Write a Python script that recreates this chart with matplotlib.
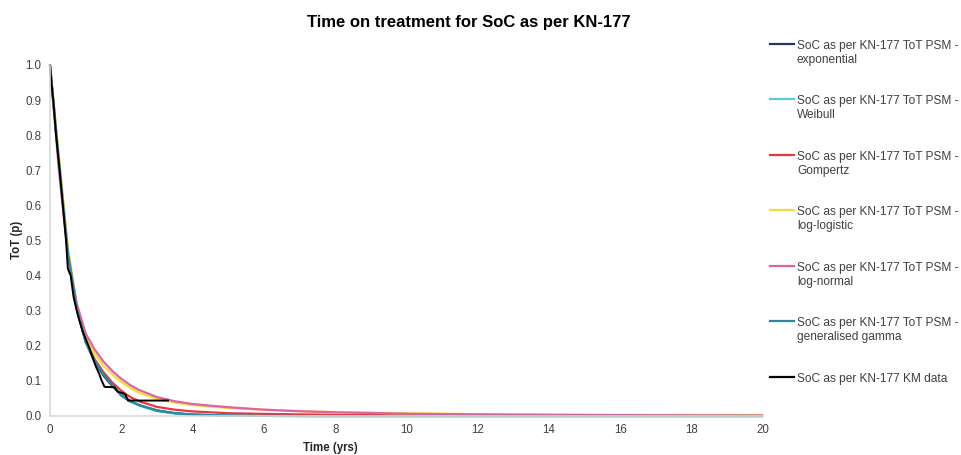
import matplotlib
matplotlib.use("Agg")
import matplotlib.pyplot as plt
from matplotlib.lines import Line2D

plt.rcParams['font.family'] = ['Liberation Sans', 'DejaVu Sans']

# ---- data ----
t_fit = [0, 0.25, 0.5, 0.75, 1.0, 1.25, 1.5, 1.75, 2.0, 2.25, 2.5, 3.0, 3.5, 4.0,
         5.0, 6.0, 7.0, 8.0, 10.0, 12.0, 14.0, 16.0, 18.0, 20.0]

exponential = [1.0, 0.72, 0.47, 0.31, 0.21, 0.155, 0.115, 0.085, 0.06, 0.043, 0.031,
               0.016, 0.008, 0.004, 0.001, 0.0003, 0, 0, 0, 0, 0, 0, 0, 0]
weibull = [1.0, 0.73, 0.47, 0.305, 0.21, 0.16, 0.12, 0.09, 0.058, 0.041, 0.03,
           0.014, 0.007, 0.004, 0.001, 0.0003, 0, 0, 0, 0, 0, 0, 0, 0]
gompertz = [1.0, 0.72, 0.465, 0.31, 0.215, 0.162, 0.125, 0.095, 0.072, 0.054, 0.042,
            0.026, 0.018, 0.013, 0.008, 0.006, 0.0045, 0.0035, 0.0025, 0.002,
            0.0017, 0.0015, 0.0014, 0.0013]
log_logistic = [1.0, 0.74, 0.48, 0.32, 0.225, 0.178, 0.143, 0.118, 0.097, 0.08, 0.066,
                0.049, 0.038, 0.031, 0.023, 0.018, 0.014, 0.011, 0.0075, 0.0055,
                0.0042, 0.0034, 0.0028, 0.0024]
log_normal = [1.0, 0.70, 0.46, 0.32, 0.235, 0.19, 0.155, 0.128, 0.106, 0.088, 0.074,
              0.054, 0.042, 0.034, 0.025, 0.018, 0.0135, 0.0105, 0.0065, 0.0045,
              0.0032, 0.0024, 0.0018, 0.0014]
gen_gamma = [1.0, 0.725, 0.468, 0.305, 0.212, 0.158, 0.118, 0.088, 0.058, 0.042, 0.031,
             0.015, 0.008, 0.004, 0.0012, 0.0004, 0.0001, 0, 0, 0, 0, 0, 0, 0]

t_km = [0, 0.04, 0.1, 0.17, 0.27, 0.36, 0.45, 0.5, 0.58, 0.66, 0.75, 0.83, 0.92, 1.0,
        1.1, 1.2, 1.29, 1.38, 1.44, 1.53, 1.81, 1.9, 2.05, 2.12, 2.19, 3.31]
km = [1.0, 0.95, 0.89, 0.8, 0.7, 0.6, 0.5, 0.42, 0.40, 0.34, 0.30, 0.27, 0.24, 0.22,
      0.195, 0.165, 0.14, 0.12, 0.103, 0.083, 0.082, 0.069, 0.065, 0.06, 0.044, 0.044]

labels = ["SoC as per KN-177 ToT PSM -\nexponential",
          "SoC as per KN-177 ToT PSM -\nWeibull",
          "SoC as per KN-177 ToT PSM -\nGompertz",
          "SoC as per KN-177 ToT PSM -\nlog-logistic",
          "SoC as per KN-177 ToT PSM -\nlog-normal",
          "SoC as per KN-177 ToT PSM -\ngeneralised gamma",
          "SoC as per KN-177 KM data"]
colors = ["#1f3a68", "#5bc8dc", "#e8383d", "#f2e030", "#e062a6", "#2b8aa0", "#000000"]

x_ticks = [0, 2, 4, 6, 8, 10, 12, 14, 16, 18, 20]
y_ticks = [0.0, 0.1, 0.2, 0.3, 0.4, 0.5, 0.6, 0.7, 0.8, 0.9, 1.0]

# ---- figure ----
W, H = 962, 455
fig = plt.figure(figsize=(W / 100, H / 100), dpi=100)
ax = fig.add_axes([50 / W, (H - 416) / H, 713 / W, 351 / H])

series = [exponential, weibull, gompertz, log_logistic, log_normal, gen_gamma]
for vals, c in zip(series, colors[:6]):
    ax.plot(t_fit, vals, color=c, lw=1.6, clip_on=False, solid_capstyle='butt')
ax.plot(t_km, km, color=colors[6], lw=1.4, clip_on=False)

ax.set_xlim(0, 20)
ax.set_ylim(0, 1.0)
ax.set_xticks(x_ticks)
ax.set_yticks(y_ticks)
ax.set_xticklabels([str(v) for v in x_ticks])
ax.set_yticklabels([f"{v:.1f}" for v in y_ticks])
ax.tick_params(length=0, labelsize=8.3, colors="#404040", pad=6)
for s in ["top", "right"]:
    ax.spines[s].set_visible(False)
for s in ["left", "bottom"]:
    ax.spines[s].set_color("#d9d9d9")
    ax.spines[s].set_linewidth(1.2)

fig.text(330 / W, 1 - 448 / H, "Time (yrs)", ha="center", va="center",
         fontsize=8.3, fontweight="bold", color="#262626")
fig.text(17 / W, 1 - 240 / H, "ToT (p)", ha="center", va="center", rotation=90,
         fontsize=8.3, fontweight="bold", color="#262626")
fig.text(469 / W, 1 - 22 / H, "Time on treatment for SoC as per KN-177", ha="center",
         va="center", fontsize=12, fontweight="bold", color="#000000")

# ---- legend (manual) ----
y0 = 43.5
step = 55.5
for i, (lab, c) in enumerate(zip(labels, colors)):
    yy = y0 + i * step
    fig.add_artist(Line2D([770 / W, 794 / W], [1 - yy / H, 1 - yy / H], color=c, lw=1.6))
    fig.text(797 / W, 1 - (yy - 3.8) / H, lab, ha="left", va="top", fontsize=8.6,
             color="#404040", linespacing=1.22)

fig.savefig("out.png", dpi=100)
